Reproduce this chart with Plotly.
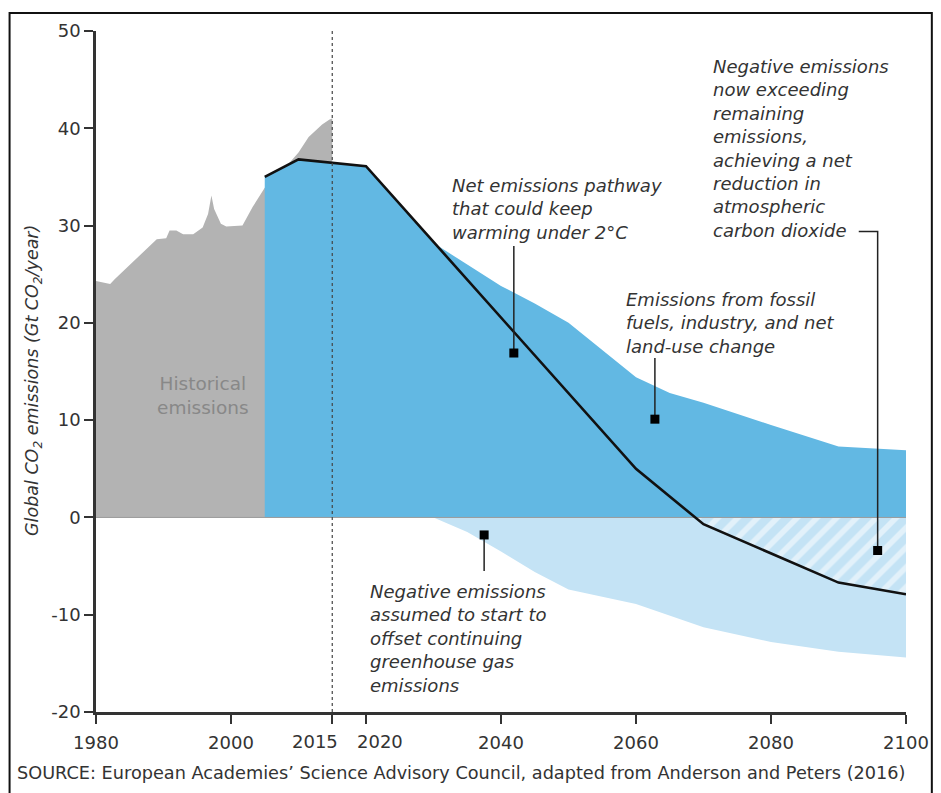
import numpy as np
import plotly.graph_objects as go

# ---------------- data ----------------
hist_years = [1980, 1982.1, 1982.8, 1989.0, 1990.4, 1990.9, 1991.9, 1992.9, 1994.4, 1995.8,
              1996.6, 1997.1, 1997.5, 1998.5, 1999.3, 2001.7, 2003.2, 2005.0, 2007.6, 2010.0,
              2011.5, 2013.5, 2014.6, 2015]
hist_values = [24.3, 24.0, 24.5, 28.6, 28.7, 29.5, 29.5, 29.1, 29.1, 29.8,
               31.2, 33.1, 31.7, 30.2, 29.9, 30.0, 31.9, 33.9, 35.6, 37.5,
               39.1, 40.4, 40.9, 41.0]

fossil_years = [2005, 2010, 2020, 2030, 2035, 2040, 2045, 2050, 2055, 2060, 2065, 2070, 2080, 2090, 2100]
fossil_values = [35.0, 36.8, 36.1, 28.2, 26.0, 23.8, 22.0, 20.0, 17.2, 14.4, 12.8, 11.8, 9.5, 7.3, 6.9]

negative_years = [2030, 2035, 2040, 2045, 2050, 2060, 2070, 2080, 2090, 2100]
negative_values = [0, -1.5, -3.5, -5.6, -7.4, -8.9, -11.3, -12.8, -13.8, -14.4]

net_years = [2005, 2010, 2020, 2060, 2070, 2090, 2100]
net_values = [35.0, 36.8, 36.1, 5.0, -0.7, -6.7, -7.9]

x_ticks = [1980, 2000, 2040, 2060, 2080, 2100]
x_ticktext = ["1980", "2000", "2040", "2060", "2080", "2100"]
# the two crowded ticks (2015, 2020): labels nudged apart, as in the reference
x_crowded_ticks = [2015, 2020]
x_crowded_text = ["2015", "2020"]
x_crowded_label_pos = [2012.4, 2022.1]
y_ticks = [-20, -10, 0, 10, 20, 30, 40, 50]
y_ticktext = ["-20", "-10", "0", "10", "20", "30", "40", "50"]

# annotation pointer targets (year, value) and line ends
ptr_net = dict(x=2041.9, y0=27.9, y1=16.9)
ptr_fossil = dict(x=2062.8, y0=16.4, y1=10.1)
ptr_negstart = dict(x=2037.5, y0=-5.5, y1=-1.8)
ptr_netneg = dict(xh=2093.0, x=2095.8, y0=29.4, y1=-3.4)

BLUE = "#62b8e3"
LIGHT_BLUE = "#c4e3f5"
GREY = "#b3b3b3"
TEXT = "#333333"
FONT = "DejaVu Sans"
TICK_SIZE = 18

fig = go.Figure()

# negative emissions band
fig.add_trace(go.Scatter(x=negative_years, y=negative_values, mode="lines", fill="tozeroy",
                         fillcolor=LIGHT_BLUE, line=dict(width=0), hoverinfo="skip"))

# hatched region between zero and net line where net < 0
ny = np.array(net_years, float)
nv = np.array(net_values, float)
i = int(np.where(nv < 0)[0][0])
x_cross = ny[i - 1] + (ny[i] - ny[i - 1]) * nv[i - 1] / (nv[i - 1] - nv[i])
hx = [x_cross] + list(ny[i:]) + [ny[-1], x_cross]
hy = [0.0] + list(nv[i:]) + [0.0, 0.0]
fig.add_trace(go.Scatter(x=hx, y=hy, mode="lines", fill="toself", fillcolor=LIGHT_BLUE,
                         fillpattern=dict(shape="/", bgcolor=LIGHT_BLUE, fgcolor="white",
                                          size=14, solidity=0.4),
                         line=dict(width=0), hoverinfo="skip"))

# historical emissions
fig.add_trace(go.Scatter(x=hist_years, y=hist_values, mode="lines", fill="tozeroy",
                         fillcolor=GREY, line=dict(width=0, color=GREY), hoverinfo="skip"))

# fossil emissions
fig.add_trace(go.Scatter(x=fossil_years, y=fossil_values, mode="lines", fill="tozeroy",
                         fillcolor=BLUE, line=dict(width=0, color=BLUE), hoverinfo="skip"))

# zero line
fig.add_trace(go.Scatter(x=[x_ticks[0], x_ticks[-1]], y=[0, 0], mode="lines",
                         line=dict(color="#9a9a9a", width=1), hoverinfo="skip"))

# net emission pathway
fig.add_trace(go.Scatter(x=net_years, y=net_values, mode="lines",
                         line=dict(color="#111111", width=2.6), hoverinfo="skip"))

# 2015 dotted line
fig.add_trace(go.Scatter(x=[2015, 2015], y=[y_ticks[0], y_ticks[-1]], mode="lines",
                         line=dict(color="#444444", width=1.2, dash="dot"), hoverinfo="skip"))

# pointer lines
for p in (ptr_net, ptr_fossil, ptr_negstart):
    fig.add_trace(go.Scatter(x=[p["x"], p["x"]], y=[p["y0"], p["y1"]], mode="lines",
                             line=dict(color="#222222", width=1.5), hoverinfo="skip"))
fig.add_trace(go.Scatter(x=[ptr_netneg["xh"], ptr_netneg["x"], ptr_netneg["x"]],
                         y=[ptr_netneg["y0"], ptr_netneg["y0"], ptr_netneg["y1"]], mode="lines",
                         line=dict(color="#222222", width=1.5), hoverinfo="skip"))
fig.add_trace(go.Scatter(x=[ptr_net["x"], ptr_fossil["x"], ptr_negstart["x"], ptr_netneg["x"]],
                         y=[ptr_net["y1"], ptr_fossil["y1"], ptr_negstart["y1"], ptr_netneg["y1"]],
                         mode="markers", marker=dict(symbol="square", size=9, color="#000000"),
                         hoverinfo="skip"))

note_font = dict(family=FONT, size=18, color=TEXT)
def note(text, x, y, align="left", xanchor="left", font=None):
    fig.add_annotation(text=text, x=x, y=y, xref="x", yref="y", showarrow=False,
                       xanchor=xanchor, yanchor="middle", align=align,
                       font=font or note_font)

note("<i>Net emissions pathway<br>that could keep<br>warming under 2°C</i>", 2032.4, 31.7)
note("<i>Emissions from fossil<br>fuels, industry, and net<br>land-use change</i>", 2058.2, 20.0)
note("<i>Negative emissions<br>now exceeding<br>remaining<br>emissions,<br>achieving a net<br>"
     "reduction in<br>atmospheric<br>carbon dioxide</i>", 2071.1, 37.9)
note("<i>Negative emissions<br>assumed to start to<br>offset continuing<br>greenhouse gas<br>emissions</i>",
     2020.3, -12.4)
note("Historical<br>emissions", 1995.8, 12.5, align="center", xanchor="center",
     font=dict(family=FONT, size=18.5, color="#888888"))

# crowded x tick labels drawn beside their ticks
for t, xpos in zip(x_crowded_text, x_crowded_label_pos):
    fig.add_annotation(text=t, x=xpos, y=-0.044, xref="x", yref="paper", showarrow=False,
                       xanchor="center", yanchor="middle",
                       font=dict(family=FONT, size=TICK_SIZE, color=TEXT))

# y-axis title
fig.add_annotation(text="<i>Global CO<sub>2</sub> emissions (Gt CO<sub>2</sub>/year)</i>",
                   x=-0.077, y=0.487, xref="paper", yref="paper", showarrow=False,
                   textangle=-90, xanchor="center", yanchor="middle",
                   font=dict(family=FONT, size=17.5, color=TEXT))

# source
fig.add_annotation(text="SOURCE: European Academies’ Science Advisory Council, adapted from Anderson and Peters (2016)",
                   x=-0.1006, y=-0.089, xref="paper", yref="paper", showarrow=False,
                   xanchor="left", yanchor="middle",
                   font=dict(family=FONT, size=17.7, color=TEXT))

# outer frame
fig.add_shape(type="rect", xref="paper", yref="paper", x0=-0.1067, x1=1.0319, y0=-0.2, y1=1.0263,
              line=dict(color="#111111", width=2), layer="above")

axis_common = dict(showline=True, linecolor="#333333", linewidth=2.5, ticks="outside",
                   ticklen=9, tickwidth=2, tickcolor="#333333", showgrid=False, zeroline=False,
                   tickfont=dict(family=FONT, size=TICK_SIZE, color=TEXT))
fig.update_xaxes(range=[x_ticks[0], x_ticks[-1]], tickmode="array", tickvals=x_ticks,
                 ticktext=x_ticktext, tickangle=0, ticklabelstandoff=4,
                 minor=dict(tickmode="array", tickvals=x_crowded_ticks, ticks="outside",
                            ticklen=9, tickwidth=2, tickcolor="#333333", showgrid=False),
                 **axis_common)
fig.update_yaxes(range=[y_ticks[0], y_ticks[-1]], tickmode="array", tickvals=y_ticks,
                 ticktext=y_ticktext, **axis_common)

# page body has an 8px margin, so the figure is 8px smaller than the window on each side
fig.update_layout(width=933, height=785, margin=dict(l=88, r=30, t=20, b=81),
                  plot_bgcolor="white", paper_bgcolor="white", showlegend=False,
                  font=dict(family=FONT, color=TEXT))

fig.write_html("out.html")
